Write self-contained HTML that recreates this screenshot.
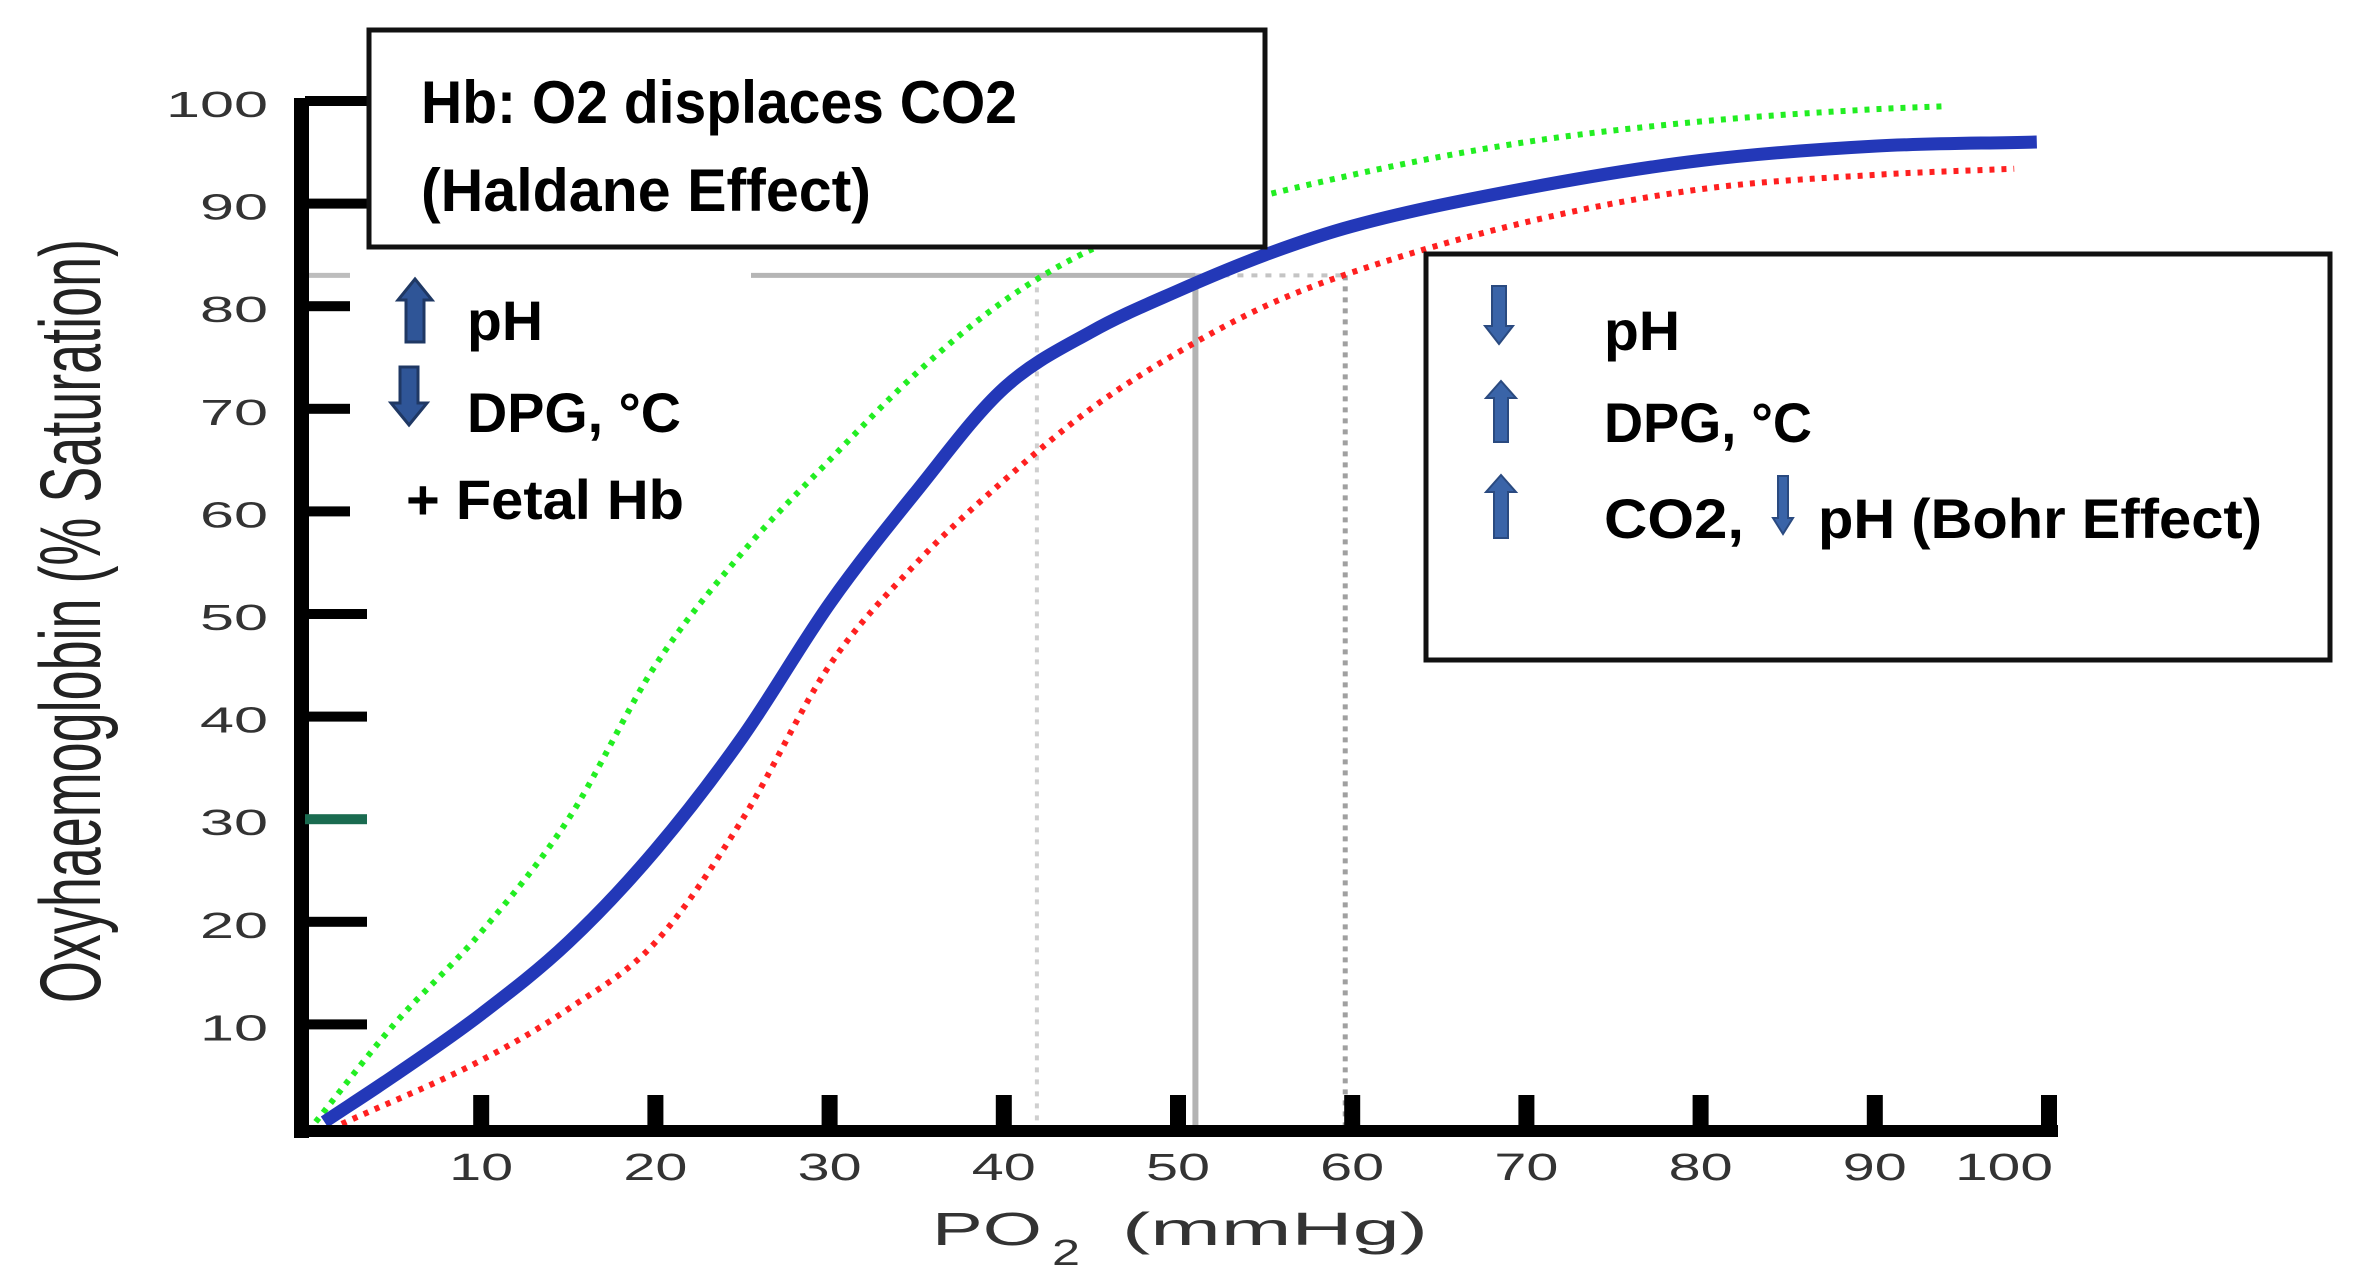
<!DOCTYPE html>
<html><head><meta charset="utf-8"><style>
html,body{margin:0;padding:0;background:#fff;}
svg{display:block;}
</style></head><body>
<svg id="chart" width="2357" height="1288" viewBox="0 0 2357 1288" xmlns="http://www.w3.org/2000/svg">
<rect x="0" y="0" width="2357" height="1288" fill="#fff"/>
<g id="refs"></g>
<g id="curves"></g>
<g id="axes"></g>
<text x="0" y="0" transform="translate(100,621) rotate(-90)" text-anchor="middle" font-family="Liberation Sans, sans-serif" font-size="86" fill="#222" textLength="764" lengthAdjust="spacingAndGlyphs">Oxyhaemoglobin (% Saturation)</text>
<g font-family="Liberation Sans, sans-serif" fill="#333">
<text x="932" y="1245" font-size="46" textLength="110" lengthAdjust="spacingAndGlyphs">PO</text>
<text x="1052" y="1265" font-size="36" textLength="28" lengthAdjust="spacingAndGlyphs">2</text>
<text x="1122" y="1245" font-size="46" textLength="306" lengthAdjust="spacingAndGlyphs">(mmHg)</text>
</g>
<g font-family="Liberation Sans, sans-serif" font-weight="bold" fill="#000">
<polygon points="415,279 432,300 424,300 424,342 406,342 406,300 398,300" fill="#2f5597" stroke="#1f3864" stroke-width="3"/>
<text x="467" y="340" font-size="56" textLength="76" lengthAdjust="spacingAndGlyphs">pH</text>
<polygon points="409,425 427,403 418,403 418,367 400,367 400,403 391,403" fill="#2f5597" stroke="#1f3864" stroke-width="3"/>
<text x="467" y="432" font-size="56" textLength="214" lengthAdjust="spacingAndGlyphs">DPG, °C</text>
<text x="406" y="519" font-size="56" textLength="278" lengthAdjust="spacingAndGlyphs">+ Fetal Hb</text>
</g>
<g>
<rect x="369" y="30" width="896" height="217" fill="#fff" stroke="#111" stroke-width="5"/>
<text x="421" y="123" font-family="Liberation Sans, sans-serif" font-weight="bold" font-size="60" textLength="596" lengthAdjust="spacingAndGlyphs">Hb: O2 displaces CO2</text>
<text x="421" y="211" font-family="Liberation Sans, sans-serif" font-weight="bold" font-size="60" textLength="450" lengthAdjust="spacingAndGlyphs">(Haldane Effect)</text>
</g>
<g font-family="Liberation Sans, sans-serif" font-weight="bold" fill="#000">
<rect x="1426" y="254" width="904" height="406" fill="#fff" stroke="#111" stroke-width="5"/>
<polygon points="1499,344 1513,326 1506,326 1506,286 1492,286 1492,326 1485,326" fill="#3a64a8" stroke="#2a4a80" stroke-width="2"/>
<text x="1604" y="350" font-size="56" textLength="76" lengthAdjust="spacingAndGlyphs">pH</text>
<polygon points="1501,381 1516,398 1508,398 1508,442 1494,442 1494,398 1486,398" fill="#3a64a8" stroke="#2a4a80" stroke-width="2"/>
<text x="1604" y="442" font-size="56" textLength="208" lengthAdjust="spacingAndGlyphs">DPG, °C</text>
<polygon points="1501,475 1516,492 1508,492 1508,538 1494,538 1494,492 1486,492" fill="#3a64a8" stroke="#2a4a80" stroke-width="2"/>
<text x="1604" y="538" font-size="56" textLength="140" lengthAdjust="spacingAndGlyphs">CO2,</text>
<polygon points="1783,534 1793,518 1788,518 1788,476 1778,476 1778,518 1773,518" fill="#3a64a8" stroke="#2a4a80" stroke-width="2"/>
<text x="1818" y="538" font-size="56" textLength="444" lengthAdjust="spacingAndGlyphs">pH (Bohr Effect)</text>
</g>
</svg>
<script>
var normalPO2 = [1, 5, 10, 15, 20, 25, 30, 35, 40, 45, 50, 55, 60, 70, 80, 90, 99.3];
var normalSat = [0.5, 5, 11, 18, 27, 38, 51, 62, 72, 77.5, 81.5, 85, 87.8, 91.5, 94.2, 95.6, 96];
var leftPO2 = [0.5, 5, 10, 15, 20, 25, 30, 35, 40, 45, 50, 60, 70, 80, 90, 94.2];
var leftSat = [0.5, 10, 19, 30, 45, 56, 65, 73.5, 80.5, 85.5, 88.5, 92.8, 96, 98, 99.2, 99.5];
var rightPO2 = [2, 10, 15, 20, 25, 30, 35, 40, 45, 50, 55, 60, 70, 80, 90, 98];
var rightSat = [0.3, 6.5, 11.5, 18, 30, 45, 55, 63, 70, 75.5, 80, 83.3, 88.2, 91.4, 92.8, 93.4];
var xTicks = [10, 20, 30, 40, 50, 60, 70, 80, 90, 100];
var xTickLabels = ["10", "20", "30", "40", "50", "60", "70", "80", "90", "100"];
var yTicks = [10, 20, 30, 40, 50, 60, 70, 80, 90, 100];
var yTickLabels = ["10", "20", "30", "40", "50", "60", "70", "80", "90", "100"];
var refSat = [83];
var refPO2 = [41.9, 51, 59.6];

function xs(v){ return 307 + v * 17.42; }
function ys(v){ return 1127 - v * 10.26; }

var NS = "http://www.w3.org/2000/svg";
function mk(tag, attrs, parent){
  var e = document.createElementNS(NS, tag);
  for (var k in attrs) e.setAttribute(k, attrs[k]);
  parent.appendChild(e);
  return e;
}

function pathFor(xv, yv){
  var px = xv.map(xs), py = yv.map(ys), n = px.length;
  var d = [], m = [];
  for (var i = 0; i < n - 1; i++) d.push((py[i+1]-py[i])/(px[i+1]-px[i]));
  m[0] = d[0]; m[n-1] = d[n-2];
  for (var i = 1; i < n - 1; i++) m[i] = (d[i-1]*d[i] <= 0) ? 0 : (d[i-1]+d[i])/2;
  for (var i = 0; i < n - 1; i++){
    if (d[i] === 0){ m[i]=0; m[i+1]=0; continue; }
    var a = m[i]/d[i], b = m[i+1]/d[i], s = a*a + b*b;
    if (s > 9){ var t = 3/Math.sqrt(s); m[i] = t*a*d[i]; m[i+1] = t*b*d[i]; }
  }
  var p = "M" + px[0].toFixed(1) + "," + py[0].toFixed(1);
  for (var i = 0; i < n - 1; i++){
    var h = (px[i+1]-px[i])/3;
    p += " C" + (px[i]+h).toFixed(1) + "," + (py[i]+m[i]*h).toFixed(1) + " " +
         (px[i+1]-h).toFixed(1) + "," + (py[i+1]-m[i+1]*h).toFixed(1) + " " +
         px[i+1].toFixed(1) + "," + py[i+1].toFixed(1);
  }
  return p;
}

var refs = document.getElementById("refs");
var hy = ys(refSat[0]);
var h1 = mk("line", {x1: 308, y1: hy, x2: 350, y2: hy, stroke: "#bdbdbd", "stroke-width": 5}, refs);


var h2 = mk("line", {x1: 751, y1: hy, x2: xs(refPO2[1]), y2: hy, stroke: "#b5b5b5", "stroke-width": 5}, refs);


var h3 = mk("line", {x1: xs(refPO2[1]), y1: hy, x2: xs(refPO2[2]), y2: hy, stroke: "#c4c4c4", "stroke-width": 4, "stroke-dasharray": "6 8"}, refs);


var v1 = mk("line", {x1: xs(refPO2[0]), y1: hy, x2: xs(refPO2[0]), y2: ys(0), stroke: "#cfcfcf", "stroke-width": 4, "stroke-dasharray": "5 7"}, refs);


var v2 = mk("line", {x1: xs(refPO2[1]), y1: hy, x2: xs(refPO2[1]), y2: ys(0), stroke: "#b3b3b3", "stroke-width": 6}, refs);


var v3 = mk("line", {x1: xs(refPO2[2]), y1: hy, x2: xs(refPO2[2]), y2: ys(0), stroke: "#a0a0a0", "stroke-width": 5, "stroke-dasharray": "5 6"}, refs);



var cg = document.getElementById("curves");
var cl = mk("path", {d: pathFor(leftPO2, leftSat), fill: "none", stroke: "#22ee22", "stroke-width": 6, "stroke-dasharray": "5 7"}, cg);


var cr = mk("path", {d: pathFor(rightPO2, rightSat), fill: "none", stroke: "#ff2020", "stroke-width": 6, "stroke-dasharray": "5 7"}, cg);


var cn = mk("path", {d: pathFor(normalPO2, normalSat), fill: "none", stroke: "#2338b8", "stroke-width": 13}, cg);



var ax = document.getElementById("axes");
var ya = mk("rect", {x: 294, y: 98, width: 15, height: 1040, fill: "#000"}, ax);


var xa = mk("rect", {x: 294, y: 1125, width: 1764, height: 12, fill: "#000"}, ax);


for (var i = 0; i < xTicks.length; i++){
  var tx = xs(xTicks[i]);
  var t = mk("rect", {x: tx - 8, y: 1095, width: 16, height: 36, fill: "#000"}, ax);
  
  
  var lab = mk("text", {x: (xTicks[i] === 100 ? tx - 94 : tx - 32), y: 1180, "font-family": "Liberation Sans, sans-serif", "font-size": 38, fill: "#333", textLength: (xTickLabels[i].length === 3 ? 98 : 64), lengthAdjust: "spacingAndGlyphs"}, ax);
  lab.textContent = xTickLabels[i];
  
  
}
for (var j = 0; j < yTicks.length; j++){
  var ty = ys(yTicks[j]);
  var tk = mk("rect", {x: 305, y: ty - 5, width: (yTicks[j] >= 60 && yTicks[j] <= 80 ? 45 : 62), height: 10, fill: (yTicks[j] === 30 ? "#1a6b50" : "#000")}, ax);
  
  
  var yl = mk("text", {x: 268, y: ty + 16, "text-anchor": "end", "font-family": "Liberation Sans, sans-serif", "font-size": 36, fill: "#333", textLength: (yTickLabels[j].length === 3 ? 102 : 68), lengthAdjust: "spacingAndGlyphs"}, ax);
  yl.textContent = yTickLabels[j];
  
  
}
</script>
</body></html>
